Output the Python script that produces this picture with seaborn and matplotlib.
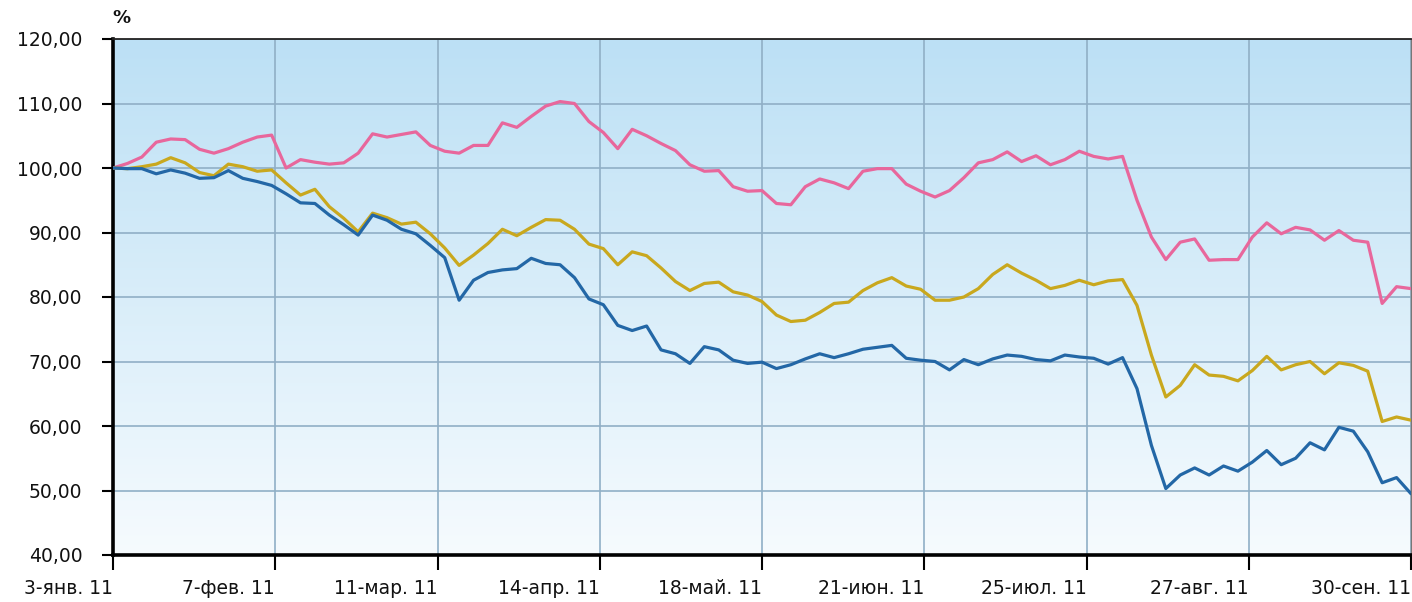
import numpy as np
import pandas as pd
import matplotlib
matplotlib.use("Agg")
import matplotlib.pyplot as plt
from matplotlib.colors import LinearSegmentedColormap
import seaborn as sns

pink = [100.0, 100.7, 101.7, 104.0, 104.5, 104.4, 102.9, 102.3, 103.0, 104.0,
        104.8, 105.1, 100.0, 101.3, 100.9, 100.6, 100.8, 102.3, 105.3, 104.8,
        105.2, 105.6, 103.5, 102.6, 102.3, 103.5, 103.5, 107.0, 106.3, 108.0,
        109.6, 110.3, 110.0, 107.2, 105.5, 103.0, 106.0, 105.0, 103.8, 102.7,
        100.5, 99.5, 99.6, 97.1, 96.4, 96.5, 94.5, 94.3, 97.1, 98.3,
        97.7, 96.8, 99.5, 99.9, 99.9, 97.5, 96.4, 95.5, 96.5, 98.5,
        100.8, 101.3, 102.5, 101.0, 101.9, 100.5, 101.3, 102.6, 101.8, 101.4,
        101.8, 95.0, 89.3, 85.8, 88.5, 89.0, 85.7, 85.8, 85.8, 89.3,
        91.5, 89.8, 90.8, 90.4, 88.8, 90.3, 88.8, 88.5, 79.0, 81.6, 81.3]

gold = [100.0, 99.9, 100.2, 100.6, 101.6, 100.8, 99.3, 98.8, 100.6, 100.2,
        99.5, 99.7, 97.7, 95.8, 96.7, 94.0, 92.2, 90.1, 93.0, 92.3,
        91.3, 91.6, 89.8, 87.6, 84.9, 86.5, 88.3, 90.5, 89.5, 90.8,
        92.0, 91.9, 90.5, 88.2, 87.5, 85.0, 87.0, 86.4, 84.5, 82.4,
        81.0, 82.1, 82.3, 80.8, 80.3, 79.3, 77.2, 76.2, 76.4, 77.6,
        79.0, 79.2, 81.0, 82.2, 83.0, 81.7, 81.2, 79.5, 79.5, 80.0,
        81.3, 83.5, 85.0, 83.7, 82.6, 81.3, 81.8, 82.6, 81.9, 82.5,
        82.7, 78.7, 71.0, 64.5, 66.3, 69.5, 67.9, 67.7, 67.0, 68.6,
        70.8, 68.7, 69.5, 70.0, 68.1, 69.8, 69.4, 68.5, 60.7, 61.4, 60.9]

blue = [100.0, 99.9, 99.9, 99.1, 99.7, 99.2, 98.4, 98.5, 99.6, 98.4,
        97.9, 97.3, 96.0, 94.6, 94.5, 92.7, 91.2, 89.6, 92.7, 91.9,
        90.5, 89.8, 88.0, 86.1, 79.5, 82.6, 83.8, 84.2, 84.4, 86.0,
        85.2, 85.0, 83.0, 79.7, 78.8, 75.6, 74.8, 75.5, 71.8, 71.2,
        69.7, 72.3, 71.8, 70.2, 69.7, 69.9, 68.9, 69.5, 70.4, 71.2,
        70.6, 71.2, 71.9, 72.2, 72.5, 70.5, 70.2, 70.0, 68.7, 70.3,
        69.5, 70.4, 71.0, 70.8, 70.3, 70.1, 71.0, 70.7, 70.5, 69.6,
        70.6, 65.8, 57.0, 50.3, 52.4, 53.5, 52.4, 53.8, 53.0, 54.4,
        56.2, 54.0, 55.0, 57.4, 56.3, 59.8, 59.2, 56.0, 51.2, 52.0, 49.5]

x_labels = ["3-янв. 11", "7-фев. 11", "11-мар. 11", "14-апр. 11", "18-май. 11",
            "21-июн. 11", "25-июл. 11", "27-авг. 11", "30-сен. 11"]
y_ticks = [40, 50, 60, 70, 80, 90, 100, 110, 120]

series_names = ["pink", "gold", "blue"]
series_values = [pink, gold, blue]
colors = ["#E8679C", "#C9A81E", "#2367A6"]

frames = []
for name, vals in zip(series_names, series_values):
    frames.append(pd.DataFrame({"t": np.arange(len(vals)), "v": vals, "s": name}))
df = pd.concat(frames, ignore_index=True)
n_last = len(pink) - 1

# ---- figure ----
sns.set_theme(style="white")
plt.rcParams["font.family"] = ["DejaVu Sans"]

W, H = 1412, 602
fig = plt.figure(figsize=(W / 100, H / 100), dpi=100)
fig.patch.set_facecolor("white")
ax = fig.add_axes([113 / W, (H - 555) / H, (1411 - 113) / W, (555 - 39) / H])

# gradient background
cmap = LinearSegmentedColormap.from_list("bg", ["#BCE0F5", "#F6FBFE"])
ax.imshow(np.linspace(0, 1, 256).reshape(-1, 1), extent=[0, n_last, 40, 120],
          aspect="auto", cmap=cmap, zorder=0, interpolation="bilinear")

sns.lineplot(data=df, x="t", y="v", hue="s", hue_order=series_names,
             palette=colors, legend=False, linewidth=2.3, ax=ax, zorder=3)

ax.set_xlim(0, n_last)
ax.set_ylim(40, 120)
xt = np.linspace(0, n_last, len(x_labels))
ax.set_xticks(xt)
ax.set_xticklabels(x_labels, ha="right", fontsize=13.5, color="#111111")
ax.set_yticks(y_ticks)
ax.set_yticklabels([f"{v:.2f}".replace(".", ",") for v in y_ticks],
                   fontsize=13.5, color="#111111")
ax.set_xlabel("")
ax.set_ylabel("")

ax.grid(True, color="#90AFC6", linewidth=1.2, zorder=1)
ax.set_axisbelow(True)

ax.tick_params(axis="y", direction="out", length=8, width=1.5, color="black", pad=14, left=True)
ax.tick_params(axis="x", direction="out", length=11, width=1.5, color="black", pad=6, bottom=True)

for side in ["left", "bottom"]:
    ax.spines[side].set_visible(True)
    ax.spines[side].set_color("black")
    ax.spines[side].set_linewidth(2.6)
ax.spines["top"].set_color("#222222")
ax.spines["top"].set_linewidth(1.3)
ax.spines["right"].set_color("#777777")
ax.spines["right"].set_linewidth(1.0)

fig.text(112 / W, 1 - 18 / H, "%", fontsize=13, fontweight="bold",
         ha="left", va="center", color="#111111")

fig.savefig("out.png", dpi=100)
